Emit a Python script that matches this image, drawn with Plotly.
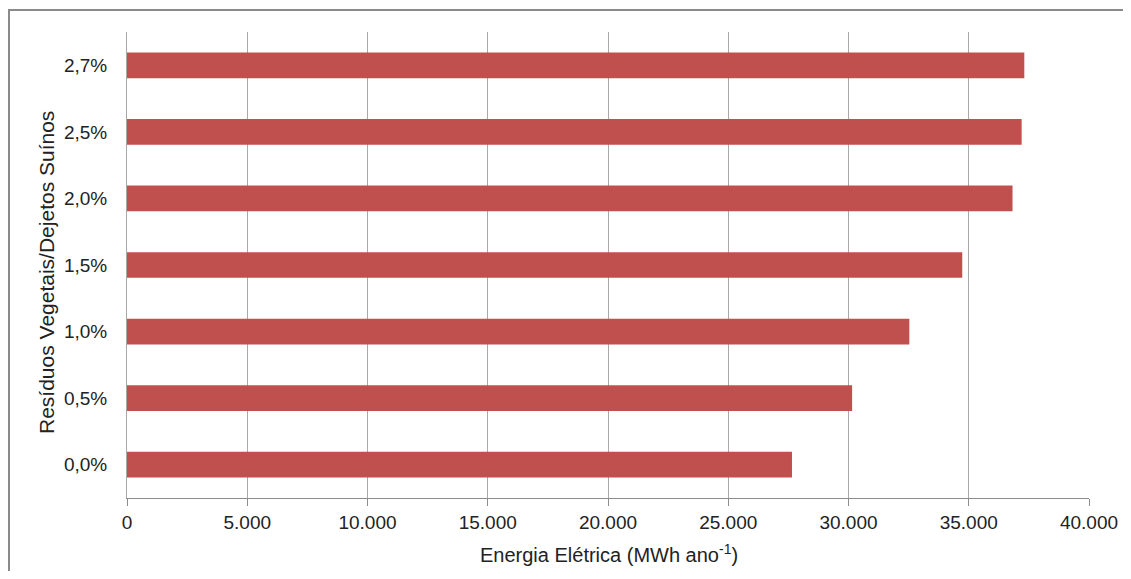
import plotly.graph_objects as go

categories = ["0,0%", "0,5%", "1,0%", "1,5%", "2,0%", "2,5%", "2,7%"]
energia = [27650, 30150, 32530, 34730, 36820, 37200, 37310]
x_tickvals = [0, 5000, 10000, 15000, 20000, 25000, 30000, 35000, 40000]
x_ticktext = ["0", "5.000", "10.000", "15.000", "20.000", "25.000", "30.000", "35.000", "40.000"]

# page has an 8px body margin; figure drawn at (8, 8)
OFF = 8
W, H = 1131 - 2 * OFF, 579 - 2 * OFF
ml, mr, mt, mb = 119, 34, 24, 73
pw, ph = W - ml - mr, H - mt - mb

def px_x(p):
    return (p - OFF - ml) / pw

def px_y(p):
    return (H - mb - (p - OFF)) / ph

font = "Liberation Sans, Arial, sans-serif"

fig = go.Figure(go.Bar(
    x=energia, y=categories, orientation="h",
    marker=dict(color="#C0504D", line=dict(width=0)),
))

fig.update_layout(
    width=W, height=H,
    margin=dict(l=ml, r=mr, t=mt, b=mb, autoexpand=False),
    paper_bgcolor="white", plot_bgcolor="white",
    bargap=0.614,
    showlegend=False,
    font=dict(family=font, size=19, color="#222222"),
    xaxis=dict(
        range=[0, 40000], tickvals=x_tickvals, ticktext=x_ticktext,
        showgrid=True, gridcolor="#a9a9a9", gridwidth=1,
        showline=True, linecolor="#8c8c8c", linewidth=1,
        ticks="outside", ticklen=7, tickcolor="#8c8c8c",
        zeroline=False, tickfont=dict(size=19), automargin=False,
    ),
    yaxis=dict(
        categoryorder="array", categoryarray=categories,
        showgrid=False, showline=True, linecolor="#a9a9a9", linewidth=1,
        ticks="", ticklabelstandoff=15, tickfont=dict(size=19),
        automargin=False,
    ),
    annotations=[
        dict(text="Resíduos Vegetais/Dejetos Suínos", textangle=-90,
             xref="paper", yref="paper", x=px_x(46), y=px_y(273),
             xanchor="center", yanchor="middle", showarrow=False,
             font=dict(size=21, family=font, color="#222222")),
        dict(text="Energia Elétrica (MWh ano<sup>-1</sup>)",
             xref="paper", yref="paper", x=px_x(609), y=px_y(553),
             xanchor="center", yanchor="middle", showarrow=False,
             font=dict(size=20, family=font, color="#222222")),
    ],
    shapes=[
        dict(type="rect", xref="paper", yref="paper",
             x0=px_x(9), x1=px_x(1160), y0=px_y(600), y1=px_y(10),
             line=dict(color="#8a8a8a", width=2), fillcolor="rgba(0,0,0,0)",
             layer="below"),
    ],
)

fig.write_html("out.html")
